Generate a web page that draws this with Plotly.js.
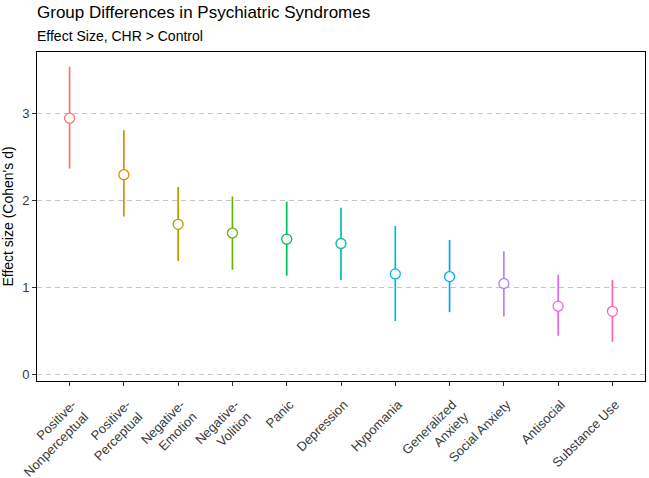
<!DOCTYPE html>
<html>
<head>
<meta charset="utf-8">
<script src="https://cdn.plot.ly/plotly-3.0.1.min.js"></script>
<style>html,body{margin:0;padding:0;background:#fff;}#chart{width:649px;height:478px;}</style>
</head>
<body>
<div id="chart"></div>
<script>
var categories = ["Positive-<br>Nonperceptual","Positive-<br>Perceptual","Negative-<br>Emotion","Negative-<br>Volition","Panic","Depression","Hypomania","Generalized<br>Anxiety","Social Anxiety","Antisocial","Substance Use"];
var effect = [2.95, 2.30, 1.73, 1.63, 1.56, 1.51, 1.16, 1.13, 1.05, 0.79, 0.73];
var upper  = [3.54, 2.81, 2.16, 2.05, 1.99, 1.92, 1.71, 1.55, 1.42, 1.15, 1.09];
var lower  = [2.37, 1.82, 1.31, 1.21, 1.14, 1.09, 0.62, 0.72, 0.67, 0.45, 0.38];
var colors = ["#F8766D","#DB8E00","#AEA200","#64B200","#00BD5C","#00C1A7","#00BADE","#00A6FF","#B385FF","#EF67EB","#FF63B6"];

var traces = categories.map(function(c, i){
  return {
    type: 'scatter', mode: 'markers',
    x: [c], y: [effect[i]],
    error_y: {type: 'data', symmetric: false, array: [upper[i]-effect[i]], arrayminus: [effect[i]-lower[i]], color: colors[i], thickness: 1.7, width: 0},
    marker: {symbol: 'circle', size: 10, color: '#ffffff', line: {color: colors[i], width: 1.3}},
    showlegend: false, hoverinfo: 'x+y'
  };
});

var layout = {
  width: 649, height: 478,
  margin: {l: 37, r: 4, t: 52, b: 97},
  paper_bgcolor: '#ffffff', plot_bgcolor: '#ffffff',
  font: {family: 'Liberation Sans, Arial, sans-serif', color: '#000'},
  xaxis: {
    type: 'category', categoryorder: 'array', categoryarray: categories,
    range: [-0.6, 10.6],
    showgrid: false, zeroline: false,
    showline: true, linecolor: '#000', linewidth: 1, mirror: true,
    ticks: 'outside', ticklen: 4, tickcolor: '#333', tickwidth: 1,
    tickangle: -45, ticklabelstandoff: 6, ticklabelshift: 3,
    tickfont: {size: 13, color: '#3A3A3A'}
  },
  yaxis: {
    range: [-0.07, 3.71],
    tickvals: [0, 1, 2, 3],
    showgrid: true, gridcolor: '#C4C4C4', gridwidth: 1, griddash: '5px,4px',
    zeroline: false,
    showline: true, linecolor: '#000', linewidth: 1, mirror: true,
    ticks: 'outside', ticklen: 4, tickcolor: '#333', tickwidth: 1,
    tickfont: {size: 13, color: '#3A3A3A'},
    title: {text: "Effect size (Cohen's d)", font: {size: 14, color: '#000'}, standoff: 6}
  },
  annotations: [
    {xref: 'paper', yref: 'paper', x: 0, y: 1, xanchor: 'left', yanchor: 'bottom', xshift: -2, yshift: 28,
     text: 'Group Differences in Psychiatric Syndromes', showarrow: false, font: {size: 17, color: '#000'}},
    {xref: 'paper', yref: 'paper', x: 0, y: 1, xanchor: 'left', yanchor: 'bottom', xshift: -2, yshift: 6,
     text: 'Effect Size, CHR &gt; Control', showarrow: false, font: {size: 14, color: '#000'}}
  ]
};

Plotly.newPlot('chart', traces, layout, {displayModeBar: false, staticPlot: true});
</script>
</body>
</html>
